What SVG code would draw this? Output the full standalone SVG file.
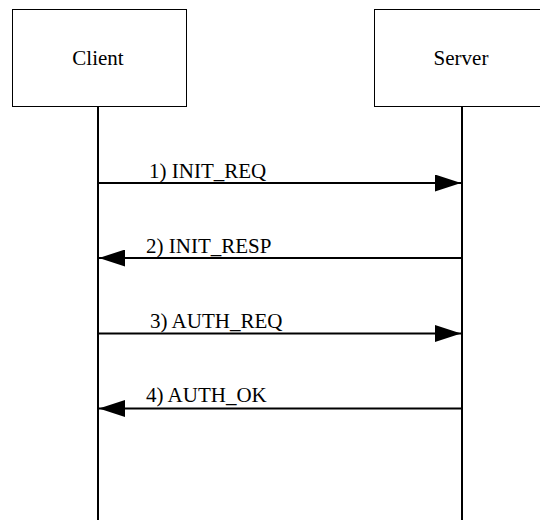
<svg xmlns="http://www.w3.org/2000/svg" width="540" height="520" viewBox="0 0 540 520">
<style>
.box{fill:#fff;stroke:#000;stroke-width:1}
.life{stroke:#000;stroke-width:2;fill:none}
.msg{stroke:#000;stroke-width:2;fill:none}
text{font-family:"Liberation Serif","Times New Roman",serif;font-size:21px;fill:#000}
</style>
<defs>
<marker id="ah" markerUnits="userSpaceOnUse" markerWidth="27" markerHeight="17" refX="26" refY="8.5" orient="auto">
<path d="M0,0 L26,8.5 L0,17 Z" fill="#000"/>
</marker>
</defs>
<rect width="540" height="520" fill="#fff"/>
<g id="client">
<rect class="box" x="12.5" y="9.5" width="174" height="97"/>
<text x="98" y="65" text-anchor="middle">Client</text>
</g>
<g id="server">
<rect class="box" x="374.5" y="9.5" width="174" height="97"/>
<text x="461" y="65" text-anchor="middle">Server</text>
</g>
<g id="connectors">
<line class="life" x1="98" y1="106" x2="98" y2="520"/>
<line class="life" x1="462" y1="106" x2="462" y2="520"/>
<line class="msg" x1="98" y1="183" x2="461" y2="183" marker-end="url(#ah)"/>
<line class="msg" x1="462" y1="258" x2="99" y2="258" marker-end="url(#ah)"/>
<line class="msg" x1="98" y1="333.5" x2="461" y2="333.5" marker-end="url(#ah)"/>
<line class="msg" x1="462" y1="408.5" x2="99" y2="408.5" marker-end="url(#ah)"/>
<text x="149" y="177.5">1) INIT_REQ</text>
<text x="146" y="253">2) INIT_RESP</text>
<text x="150" y="328">3) AUTH_REQ</text>
<text x="146" y="402">4) AUTH_OK</text>
</g>
</svg>
